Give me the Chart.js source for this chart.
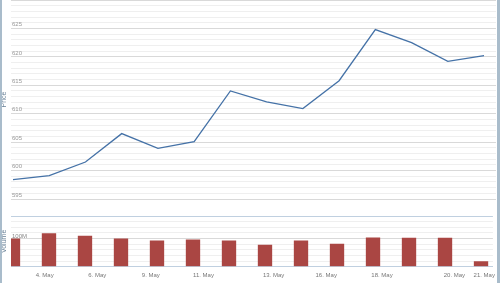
<!DOCTYPE html>
<html>
<head>
<meta charset="utf-8">
<script src="https://cdn.jsdelivr.net/npm/chart.js@4/dist/chart.umd.min.js"></script>
<style>
  html, body { margin: 0; padding: 0; background: #fff; }
  #wrap { position: relative; width: 500px; height: 283px; overflow: hidden; }
  #priceBox { position: absolute; left: 0; top: 0; width: 500px; height: 200px; }
  #volBox { position: absolute; left: 0; top: 215px; width: 500px; height: 71px; }
  .edge { position: absolute; top: 0; width: 2px; height: 283px; background: #a9bccb; }
</style>
</head>
<body>
<div id="wrap">
  <div id="priceBox"><canvas id="grafPreco"></canvas></div>
  <div id="volBox"><canvas id="grafVolume"></canvas></div>
  <div class="edge" style="left:0"></div>
  <div class="edge" style="left:497px;width:3px"></div>
</div>
<script>
// trading days shown (one point / bar each)
var dias = ["3. May", "4. May", "5. May", "6. May", "9. May", "10. May", "11. May",
            "12. May", "13. May", "16. May", "17. May", "18. May", "19. May", "20. May"];
var precos = [598.4, 599.1, 601.5, 606.5, 603.9, 605.1, 614.0,
              612.1, 610.9, 615.8, 624.8, 622.5, 619.2, 620.2];
var volumes = [100.3e6, 118.7e6, 109.7e6, 100.3e6, 93.4e6, 96.9e6, 93.4e6,
               78.5e6, 93.4e6, 82.0e6, 103.8e6, 102.8e6, 102.8e6, 19.7e6];

// x axis labels and where they sit on the point index axis
var xTickLabels = ["4. May", "6. May", "9. May", "11. May", "13. May", "16. May", "18. May", "20. May", "21. May"];
var xTickAt = [0.88, 2.34, 3.83, 5.29, 7.24, 8.70, 10.25, 12.26, 13.09];

var xMin = -0.055, xMax = 13.33;
var fonte = "'Liberation Sans', Arial, sans-serif";

function pontos(vals) {
    return vals.map(function (v, i) { return { x: i, y: v }; });
}

// fixed axis width, and no extra room for the half labels at top/bottom
function larguraEixo(axis) {
    axis.width = 11;
    axis.paddingTop = 0;
    axis.paddingBottom = 0;
}

new Chart(document.getElementById("grafPreco"), {
    type: "line",
    data: {
        datasets: [{
            label: "Price",
            data: pontos(precos),
            borderColor: "#4572a7",
            borderWidth: 1.3,
            pointRadius: 0,
            tension: 0
        }]
    },
    options: {
        responsive: true,
        maintainAspectRatio: false,
        animation: false,
        layout: { padding: { top: 0, right: 4, bottom: 1, left: 0 } },
        plugins: { legend: { display: false }, tooltip: { enabled: false } },
        scales: {
            x: { type: "linear", display: false, min: xMin, max: xMax },
            y: {
                min: 595, max: 630,
                afterFit: larguraEixo,
                ticks: {
                    stepSize: 1,
                    maxTicksLimit: 100,
                    autoSkip: false,
                    mirror: true,
                    padding: 1,
                    labelOffset: -4,
                    color: "#999",
                    font: { family: fonte, size: 6 },
                    callback: function (v) { return v % 5 === 0 && v !== 630 ? v : ""; }
                },
                grid: {
                    drawTicks: false,
                    color: function (c) { return c.tick && c.tick.value % 5 === 0 ? "#d9d9d9" : "#efefef"; }
                },
                border: { display: false },
                title: {
                    display: true, text: "Price", color: "#6a8298",
                    font: { family: fonte, size: 7 }, padding: { top: 0, bottom: 0 }
                }
            }
        }
    }
});

new Chart(document.getElementById("grafVolume"), {
    type: "bar",
    data: {
        labels: dias,
        datasets: [{
            label: "Volume",
            data: pontos(volumes),
            backgroundColor: "#aa4643",
            categoryPercentage: 1,
            barPercentage: 0.48
        }]
    },
    options: {
        responsive: true,
        maintainAspectRatio: false,
        animation: false,
        layout: { padding: { top: 1, right: 4, bottom: 2, left: 0 } },
        plugins: { legend: { display: false }, tooltip: { enabled: false } },
        scales: {
            x: {
                type: "linear", min: xMin, max: xMax, offset: false,
                afterBuildTicks: function (axis) {
                    axis.ticks = xTickAt.map(function (v) { return { value: v }; });
                },
                ticks: {
                    autoSkip: false, maxRotation: 0, padding: 5,
                    color: "#777",
                    font: { family: fonte, size: 6 },
                    callback: function (v, i) { return xTickLabels[i]; }
                },
                grid: { display: false, drawTicks: false },
                border: { display: true, color: "#c0d0e0" }
            },
            y: {
                min: 0, max: 180e6,
                afterFit: larguraEixo,
                ticks: {
                    stepSize: 20e6,
                    maxTicksLimit: 100,
                    autoSkip: false,
                    mirror: true,
                    padding: 1,
                    labelOffset: -2,
                    color: "#888",
                    font: { family: fonte, size: 6 },
                    callback: function (v) { return v === 100e6 ? "100M" : ""; }
                },
                grid: {
                    drawTicks: false,
                    color: function (c) {
                        if (!c.tick) return "#efefef";
                        if (c.tick.value === 180e6) return "#c0d0e0";
                        return c.tick.value === 100e6 ? "#d9d9d9" : "#efefef";
                    }
                },
                border: { display: false },
                title: {
                    display: true, text: "Volume", color: "#6a8298",
                    font: { family: fonte, size: 7 }, padding: { top: 0, bottom: 0 }
                }
            }
        }
    }
});
</script>
</body>
</html>
